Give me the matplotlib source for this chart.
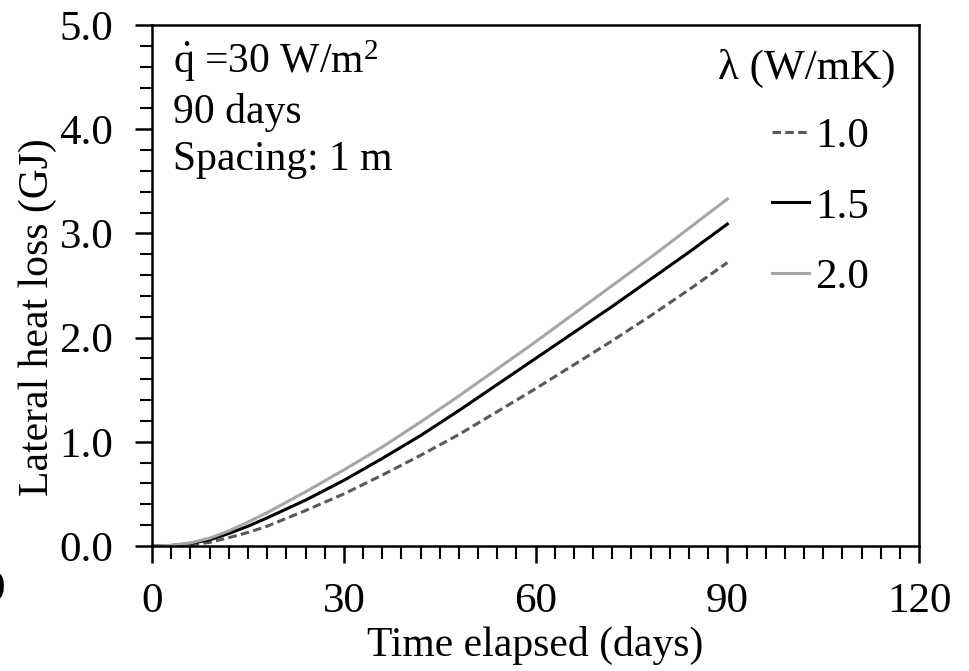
import numpy as np
import matplotlib.pyplot as plt
from matplotlib.ticker import MultipleLocator, FormatStrFormatter

plt.rcParams['font.family'] = ['Liberation Serif', 'DejaVu Serif']
plt.rcParams['mathtext.fontset'] = 'custom'
plt.rcParams['mathtext.rm'] = 'Liberation Serif'
plt.rcParams['mathtext.it'] = 'Liberation Serif:italic'

# values
days = [0, 3, 6, 9, 12, 15, 18, 24, 30, 36, 42, 48, 54, 60, 66, 72, 78, 84, 90]
loss_10 = [0, 0.0, 0.01, 0.035, 0.08, 0.13, 0.19, 0.34, 0.50, 0.68, 0.87, 1.07, 1.29, 1.51, 1.74, 1.97, 2.21, 2.46, 2.72]
loss_15 = [0, 0.005, 0.025, 0.06, 0.12, 0.19, 0.27, 0.44, 0.63, 0.84, 1.06, 1.30, 1.55, 1.80, 2.05, 2.30, 2.56, 2.82, 3.09]
loss_20 = [0, 0.006, 0.03, 0.075, 0.145, 0.23, 0.32, 0.52, 0.73, 0.95, 1.19, 1.44, 1.70, 1.96, 2.23, 2.50, 2.77, 3.05, 3.33]
labels = ['1.0', '1.5', '2.0']

fig = plt.figure(figsize=(9.69, 6.71), dpi=100)
ax = fig.add_axes([0.157, 0.1863, 0.7915, 0.7764])

ax.plot(days, loss_10, color='#595959', lw=2.2, ls=(0, (2.8, 1.4)), label=labels[0])
ax.plot(days, loss_15, color='black', lw=2.2, label=labels[1])
ax.plot(days, loss_20, color='#a6a6a6', lw=2.2, label=labels[2])

ax.set_xlim(0, 120)
ax.set_ylim(0, 5)
ax.xaxis.set_major_locator(MultipleLocator(30))
ax.xaxis.set_minor_locator(MultipleLocator(3))
ax.yaxis.set_major_locator(MultipleLocator(1))
ax.yaxis.set_minor_locator(MultipleLocator(0.2))
ax.yaxis.set_major_formatter(FormatStrFormatter('%.1f'))
ax.tick_params(which='major', direction='out', length=12, width=1.8, labelsize=31, pad=14)
ax.tick_params(which='minor', direction='out', length=9, width=1.5)
ax.tick_params(axis='y', which='major', pad=16)
for s in ax.spines.values():
    s.set_linewidth(1.8)

ax.set_xlabel('Time elapsed (days)', fontsize=30, labelpad=4)
ax.set_ylabel('Lateral heat loss (GJ)', fontsize=30)
ax.yaxis.set_label_coords(-0.124, 0.44)

ax.text(0.027, 0.975, r'$\dot{\mathrm{q}}$ =30 W/m$^2$' + '\n90 days\nSpacing: 1 m',
        transform=ax.transAxes, fontsize=30, va='top', ha='left', linespacing=1.3)

# legend title drawn on its own so the entries sit where the reference has them
ax.text(0.853, 0.917, 'λ (W/mK)', transform=ax.transAxes, fontsize=31,
        ha='center', va='center')
ax.legend(loc='upper right', bbox_to_anchor=(0.935, 0.823), frameon=False, fontsize=31,
          handlelength=0.85, handletextpad=0.15, labelspacing=0.72,
          borderpad=0, borderaxespad=0)

fig.text(5 / 969, 1 - 590 / 671, '0', fontsize=31, ha='right', va='center')

fig.savefig('out.png', dpi=100)
